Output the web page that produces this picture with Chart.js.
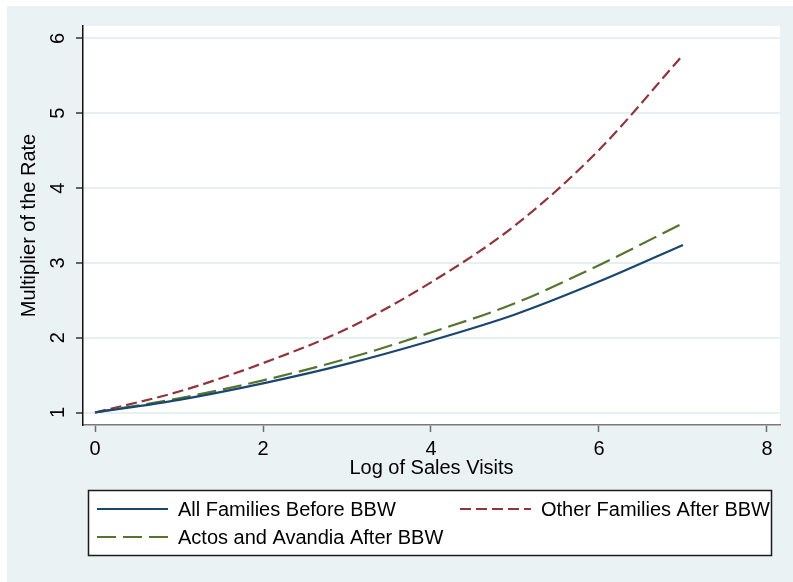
<!DOCTYPE html>
<html>
<head>
<meta charset="utf-8">
<script src="https://cdn.jsdelivr.net/npm/chart.js@4.4.1/dist/chart.umd.min.js"></script>
<style>
  html, body { margin: 0; padding: 0; background: #ffffff; }
  canvas { display: block; }
</style>
</head>
<body>
<canvas id="chart" width="793" height="582"></canvas>
<script>
// Log of sales visits (x) and the resulting rate multiplier for each group
const salesVisits = [0, 1, 2, 3, 4, 5, 6, 7];
const allFamiliesBefore = [1, 1.17, 1.39, 1.65, 1.96, 2.31, 2.75, 3.24];
const otherFamiliesAfter = [1, 1.28, 1.66, 2.12, 2.74, 3.50, 4.51, 5.78];
const actosAvandiaAfter = [1, 1.19, 1.43, 1.72, 2.07, 2.46, 2.97, 3.53];

const seriesNames = [
  'All Families Before BBW',
  'Other Families After BBW',
  'Actos and Avandia After BBW'
];

const xTickValues = [0, 2, 4, 6, 8];
const xTickLabels = ['0', '2', '4', '6', '8'];
const yTickValues = [1, 2, 3, 4, 5, 6];
const yTickLabels = ['1', '2', '3', '4', '5', '6'];

const FONT = '"Liberation Sans", Arial, Helvetica, sans-serif';
const BG = '#EAF2F3';

function toPoints(values) {
  return salesVisits.map((x, i) => ({ x: x, y: values[i] }));
}

// Page background, white plot region, rotated y tick labels and the boxed legend
const decorations = {
  id: 'decorations',
  beforeDraw(chart) {
    const ctx = chart.ctx;
    const a = chart.chartArea;
    ctx.save();
    ctx.fillStyle = '#ffffff';
    ctx.fillRect(0, 0, chart.width, chart.height);
    ctx.fillStyle = BG;
    ctx.fillRect(7, 6, chart.width - 7, chart.height - 6);
    ctx.fillStyle = '#ffffff';
    ctx.fillRect(a.left, a.top, a.right - a.left, a.bottom - a.top);
    ctx.restore();
  },
  afterDraw(chart) {
    const ctx = chart.ctx;
    const yScale = chart.scales.y;
    ctx.save();
    ctx.fillStyle = '#000000';
    ctx.font = '20px ' + FONT;
    ctx.textAlign = 'center';
    ctx.textBaseline = 'middle';
    yScale.ticks.forEach((t, i) => {
      const py = yScale.getPixelForValue(t.value);
      ctx.save();
      ctx.translate(58, py);
      ctx.rotate(-Math.PI / 2);
      ctx.fillText(yTickLabels[i], 0, 0);
      ctx.restore();
    });

    // legend box
    const box = { left: 88, top: 490, right: 772, bottom: 556 };
    ctx.fillStyle = '#ffffff';
    ctx.fillRect(box.left, box.top, box.right - box.left, box.bottom - box.top);
    ctx.strokeStyle = '#1a1a1a';
    ctx.lineWidth = 1.5;
    ctx.strokeRect(box.left + 0.5, box.top + 0.5, box.right - box.left - 1, box.bottom - box.top - 1);

    const slots = [
      { x: 97, y: 509 },
      { x: 460, y: 509 },
      { x: 97, y: 537 }
    ];
    chart.data.datasets.forEach((ds, i) => {
      const s = slots[i];
      ctx.save();
      ctx.strokeStyle = ds.borderColor;
      ctx.lineWidth = ds.borderWidth;
      ctx.setLineDash(ds.borderDash || []);
      ctx.beginPath();
      ctx.moveTo(s.x, s.y);
      ctx.lineTo(s.x + 71, s.y);
      ctx.stroke();
      ctx.restore();
      ctx.fillStyle = '#000000';
      ctx.textAlign = 'left';
      ctx.textBaseline = 'middle';
      ctx.font = '20px ' + FONT;
      ctx.fillText(ds.label, s.x + 81, s.y + 1);
    });
    ctx.restore();
  }
};

new Chart(document.getElementById('chart'), {
  type: 'line',
  data: {
    datasets: [
      {
        label: seriesNames[0],
        data: toPoints(allFamiliesBefore),
        borderColor: '#1A476F',
        borderWidth: 2.2,
        borderDash: [],
      },
      {
        label: seriesNames[1],
        data: toPoints(otherFamiliesAfter),
        borderColor: '#90353B',
        borderWidth: 2.2,
        borderDash: [11, 5],
      },
      {
        label: seriesNames[2],
        data: toPoints(actosAvandiaAfter),
        borderColor: '#55752F',
        borderWidth: 2.2,
        borderDash: [19, 7],
      }
    ]
  },
  options: {
    responsive: false,
    devicePixelRatio: 1,
    animation: false,
    layout: { padding: { left: 0, top: 26, right: 13, bottom: 0 } },
    elements: {
      point: { radius: 0, hoverRadius: 0 },
      line: { cubicInterpolationMode: 'monotone', fill: false }
    },
    plugins: {
      legend: { display: false },
      tooltip: { enabled: false }
    },
    scales: {
      x: {
        type: 'linear',
        min: -0.143,
        max: 8.155,
        afterBuildTicks(scale) {
          scale.ticks = xTickValues.map(v => ({ value: v }));
        },
        afterFit(scale) { scale.height = 157; },
        ticks: {
          color: '#000000',
          font: { family: FONT, size: 20 },
          padding: 5,
          maxRotation: 0,
          callback(value) {
            const i = xTickValues.indexOf(value);
            return i >= 0 ? xTickLabels[i] : '';
          }
        },
        grid: {
          drawOnChartArea: false,
          drawTicks: true,
          tickLength: 7,
          tickColor: '#6E6E6E',
          tickWidth: 1.5
        },
        border: { display: true, color: '#7A7A7A', width: 1.5 },
        title: {
          display: true,
          text: 'Log of Sales Visits',
          color: '#000000',
          font: { family: FONT, size: 20 },
          padding: { top: 0, bottom: 102 }
        }
      },
      y: {
        type: 'linear',
        min: 0.833,
        max: 6.167,
        afterBuildTicks(scale) {
          scale.ticks = yTickValues.map(v => ({ value: v }));
        },
        afterFit(scale) { scale.width = 83; },
        ticks: { display: false },
        grid: {
          drawOnChartArea: true,
          color: '#E6EFF1',
          lineWidth: 2,
          drawTicks: true,
          tickLength: 7,
          tickColor: '#333333',
          tickWidth: 1.5
        },
        border: { display: true, color: '#111111', width: 1.5 },
        title: {
          display: true,
          text: 'Multiplier of the Rate',
          color: '#000000',
          font: { family: FONT, size: 20 },
          padding: { top: 17, bottom: 0 }
        }
      }
    }
  },
  plugins: [decorations]
});
</script>
</body>
</html>
